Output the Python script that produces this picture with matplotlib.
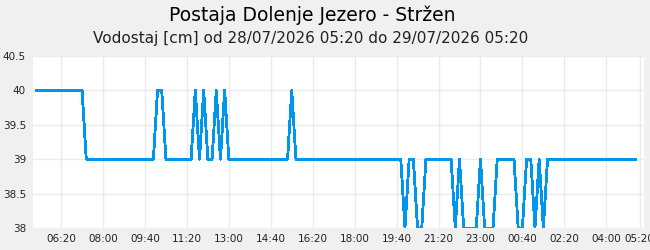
import matplotlib
matplotlib.use("Agg")
import matplotlib.pyplot as plot
import pandas as pd

TITLE = "Postaja Dolenje Jezero - Stržen"
SUBTITLE = "Vodostaj [cm] od 28/07/2026 05:20 do 29/07/2026 05:20"
START = "2026-07-28 05:20"

# water level [cm], one reading every 10 minutes from 05:20
levels = [
    40, 40, 40, 40, 40, 40, 40, 40, 40, 40, 40, 40,
    39, 39, 39, 39, 39, 39, 39, 39, 39, 39, 39, 39,
    39, 39, 39, 39, 39, 40, 40, 39, 39, 39, 39, 39,
    39, 39, 40, 39, 40, 39, 39, 40, 39, 40, 39, 39,
    39, 39, 39, 39, 39, 39, 39, 39, 39, 39, 39, 39,
    39, 40, 39, 39, 39, 39, 39, 39, 39, 39, 39, 39,
    39, 39, 39, 39, 39, 39, 39, 39, 39, 39, 39, 39,
    39, 39, 39, 39, 38, 39, 39, 38, 38, 39, 39, 39,
    39, 39, 39, 39, 38, 39, 38, 38, 38, 38, 39, 38,
    38, 38, 39, 39, 39, 39, 39, 38, 38, 39, 39, 38,
    39, 38, 39, 39, 39, 39, 39, 39, 39, 39, 39, 39,
    39, 39, 39, 39, 39, 39, 39, 39, 39, 39, 39, 39,
]
y_ticks = [38, 38.5, 39, 39.5, 40, 40.5]
y_tick_labels = ["38", "38.5", "39", "39.5", "40", "40.5"]
x_tick_labels = ["06:20", "08:00", "09:40", "11:20", "13:00", "14:40", "16:20", "18:00",
                 "19:40", "21:20", "23:00", "00:40", "02:20", "04:00", "05:20"]

start = pd.Timestamp(START)
times = pd.date_range(start, periods=len(levels), freq="10min")

# tick times: every 100 minutes from 06:20, plus the end of the day window
tick_times = [start + pd.Timedelta(minutes=60 + 100 * i) for i in range(len(x_tick_labels) - 1)]
tick_times.append(start + pd.Timedelta(days=1))

figure = plot.figure(figsize=(6.5, 2.5), dpi=100, facecolor="#f0f0f0")
axis = figure.add_axes((33 / 650, 1 - 228 / 250, 611 / 650, 172 / 250))
axis.set_facecolor("white")

axis.plot(times, levels, color="#0096ee", linewidth=1.3, antialiased=False, zorder=3)

axis.set_xlim(start - pd.Timedelta(minutes=7), start + pd.Timedelta(minutes=1450))
axis.set_ylim(38, 40.5)
axis.set_yticks(y_ticks, y_tick_labels)
axis.set_xticks(tick_times, x_tick_labels)
axis.tick_params(axis="both", length=0, labelsize=7.5, colors="#222222")
axis.tick_params(axis="y", pad=5)
axis.tick_params(axis="x", pad=4)
axis.grid(True, color="#ebebeb", linewidth=1)
axis.set_axisbelow(True)
for spine in axis.spines.values():
    spine.set_visible(False)

figure.text(312 / 650, 1 - 15 / 250, TITLE, ha="center", va="center", fontsize=13.5, color="black")
figure.text(311 / 650, 1 - 39 / 250, SUBTITLE, ha="center", va="center", fontsize=11,
            color="#222222")

figure.savefig("out.png", dpi=100, facecolor=figure.get_facecolor())
